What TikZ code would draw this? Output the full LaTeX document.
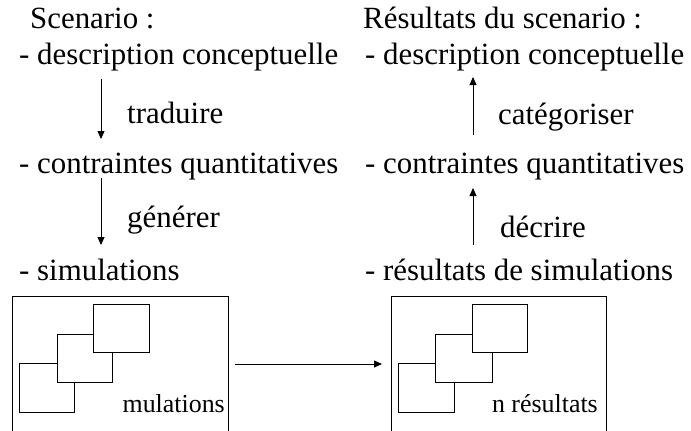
\documentclass[tikz,border=0pt]{standalone}
\usepackage{fontspec}
\setmainfont{Liberation Serif}
\usetikzlibrary{arrows.meta}
\begin{document}
\begin{tikzpicture}[x=1bp,y=-1bp,
  txt/.style={anchor=base west,inner sep=0pt,font=\fontsize{31}{36}\selectfont},
  small/.style={anchor=base east,inner sep=0pt,font=\fontsize{26}{30}\selectfont},
  conn/.style={line width=0.8bp,-{Triangle[length=8bp,width=7bp]}},
  frame/.style={draw,line width=0.8bp},
  sq/.style={draw,fill=white,line width=0.8bp}]
\useasboundingbox (0,0) rectangle (691,430);
% left column
\node[txt] (s0) at (30,28) {Scenario :};
\node[txt] (s1) at (19,64) {- description conceptuelle};
\node[txt] (l1) at (127,123) {traduire};
\node[txt] (s2) at (19,173) {- contraintes quantitatives};
\node[txt] (l2) at (127,227) {générer};
\node[txt] (s3) at (19,280) {- simulations};
% right column
\node[txt] (r0) at (363,28) {Résultats du scenario :};
\node[txt] (r1) at (365,64) {- description conceptuelle};
\node[txt] (l3) at (498,124) {catégoriser};
\node[txt] (r2) at (365,173) {- contraintes quantitatives};
\node[txt] (l4) at (500,237) {décrire};
\node[txt] (r3) at (365,280) {- résultats de simulations};
% vertical arrows
\coordinate (a1s) at (101,79);  \coordinate (a1e) at (101,139);
\coordinate (a2s) at (101,178); \coordinate (a2e) at (101,245);
\coordinate (a3s) at (473,135); \coordinate (a3e) at (473,77);
\coordinate (a4s) at (473,245); \coordinate (a4e) at (473,188);
\draw[conn] (a1s) -- (a1e);
\draw[conn] (a2s) -- (a2e);
\draw[conn] (a3s) -- (a3e);
\draw[conn] (a4s) -- (a4e);
% left box
\path[frame] (12,445) -- (12,296) -- (228,296) -- (228,445);
\draw[sq] (19,363) rectangle (74,412);
\draw[sq] (57,334) rectangle (112,382);
\draw[sq] (93,304) rectangle (149,352);
\node[small] (m1) at (225,412) {mulations};
% right box
\path[frame] (391,445) -- (391,296) -- (606,296) -- (606,445);
\draw[sq] (398,363) rectangle (454,412);
\draw[sq] (435,334) rectangle (492,382);
\draw[sq] (472,304) rectangle (527,352);
\node[small] (m2) at (598,412) {n résultats};
% horizontal arrow
\coordinate (h1) at (235,364); \coordinate (h2) at (382,364);
\draw[conn] (h1) -- (h2);
\end{tikzpicture}
\end{document}
